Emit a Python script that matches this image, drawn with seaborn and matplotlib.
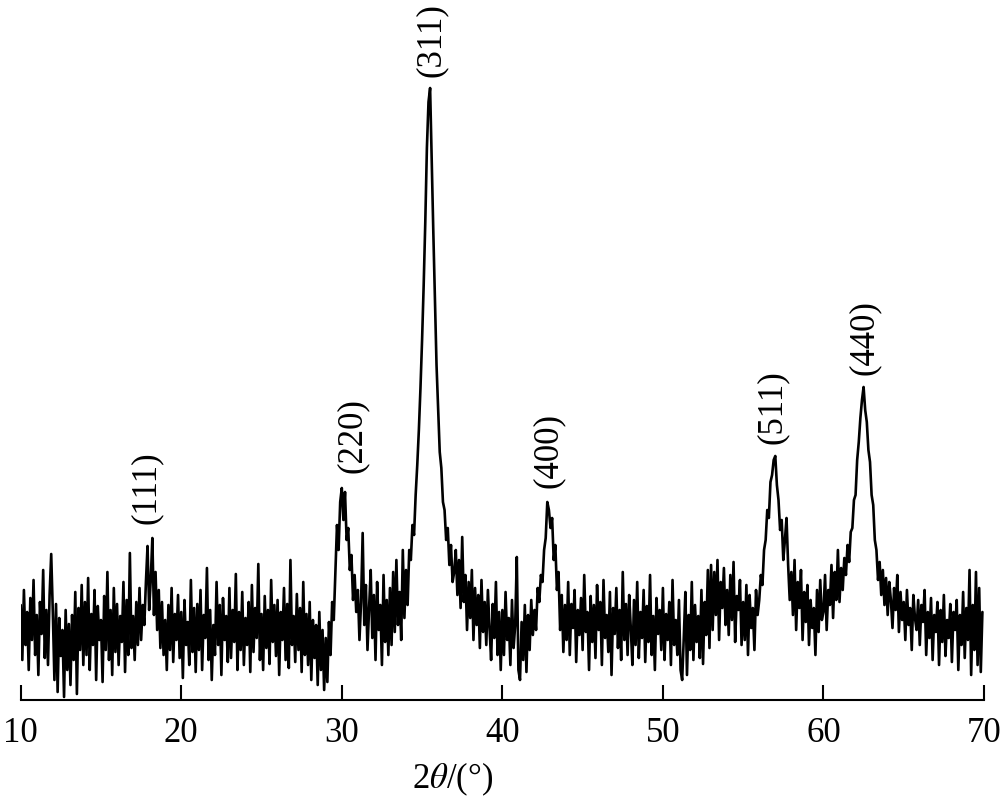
import numpy as np
import pandas as pd
import matplotlib.pyplot as plt
import seaborn as sns

# scan: 10.0 - 69.9 deg, 0.1 deg step, one row per degree
two_theta_start = 10.0
two_theta_step = 0.1
intensity_rows = [
    [95, 40, 110, 55, 88, 30, 102, 60, 120, 45],      # 10
    [85, 25, 98, 66, 130, 42, 90, 35, 105, 146],      # 11
    [88, 20, 96, 8, 82, 44, 70, 3, 90, 30],           # 12
    [76, 15, 85, 40, 108, 6, 92, 50, 115, 35],        # 13
    [98, 45, 122, 30, 86, 55, 110, 20, 94, 60],       # 14
    [80, 18, 104, 50, 128, 40, 90, 25, 112, 48],      # 15
    [96, 35, 84, 58, 118, 28, 100, 45, 147, 52],      # 16
    [84, 40, 98, 55, 112, 60, 95, 75, 118, 154],      # 17
    [90, 120, 162, 85, 128, 70, 110, 52, 98, 45],     # 18
    [80, 30, 95, 50, 112, 38, 86, 60, 105, 42],       # 19
    [88, 22, 100, 55, 78, 35, 120, 48, 92, 28],       # 20
    [96, 50, 110, 30, 85, 62, 132, 40, 90, 20],       # 21
    [75, 45, 118, 55, 95, 25, 102, 60, 84, 38],       # 22
    [112, 42, 90, 58, 126, 30, 88, 50, 108, 35],      # 23
    [82, 55, 98, 28, 115, 48, 92, 62, 136, 40],       # 24
    [86, 30, 104, 52, 90, 36, 120, 58, 95, 44],       # 25
    [100, 25, 88, 60, 112, 40, 96, 32, 140, 55],      # 26
    [84, 38, 106, 50, 92, 28, 118, 45, 86, 35],       # 27
    [98, 20, 80, 42, 75, 15, 88, 30, 70, 10],         # 28
    [62, 18, 78, 45, 98, 80, 128, 175, 150, 198],     # 29
    [212, 180, 208, 160, 172, 130, 145, 100, 125, 88],  # 30
    [110, 60, 98, 167, 75, 115, 50, 92, 130, 62],     # 31
    [105, 40, 118, 70, 95, 35, 125, 58, 100, 45],     # 32
    [112, 55, 128, 68, 140, 75, 108, 60, 150, 82],    # 33
    [130, 95, 150, 140, 175, 165, 205, 235, 270, 312],  # 34
    [360, 415, 478, 552, 598, 612, 540, 468, 402, 335],  # 35
    [292, 248, 232, 198, 190, 160, 172, 135, 155, 118],  # 36
    [128, 150, 105, 140, 92, 163, 98, 125, 70, 118],  # 37
    [82, 130, 60, 112, 75, 105, 52, 120, 68, 98],     # 38
    [55, 110, 72, 40, 96, 62, 118, 45, 88, 30],       # 39
    [90, 45, 108, 60, 82, 35, 100, 52, 75, 143],      # 40
    [30, 20, 78, 40, 95, 28, 85, 50, 100, 65],        # 41
    [90, 70, 112, 98, 125, 118, 150, 162, 198, 190],  # 42
    [172, 182, 140, 155, 110, 128, 70, 105, 48, 95],  # 43
    [60, 118, 45, 96, 72, 110, 38, 90, 65, 102],      # 44
    [50, 125, 68, 88, 30, 104, 58, 95, 42, 115],      # 45
    [70, 98, 35, 120, 62, 85, 48, 108, 25, 92],       # 46
    [66, 112, 52, 90, 40, 128, 60, 96, 45, 105],      # 47
    [72, 35, 100, 55, 118, 42, 88, 62, 110, 38],      # 48
    [94, 58, 125, 45, 84, 30, 102, 66, 90, 50],       # 49
    [112, 40, 86, 60, 98, 35, 120, 55, 80, 45],       # 50
    [100, 30, 20, 62, 108, 25, 85, 50, 118, 40],      # 51
    [95, 58, 84, 42, 110, 36, 98, 65, 130, 52],       # 52
    [135, 70, 128, 85, 140, 60, 118, 92, 132, 75],    # 53
    [110, 65, 125, 80, 138, 58, 104, 90, 120, 55],    # 54
    [98, 60, 115, 45, 105, 72, 92, 50, 110, 85],      # 55
    [100, 125, 115, 150, 160, 190, 182, 218, 225, 240],  # 56
    [244, 215, 200, 170, 180, 140, 160, 182, 135, 100],  # 57
    [128, 85, 140, 70, 118, 92, 130, 60, 108, 78],    # 58
    [115, 55, 100, 72, 92, 45, 110, 68, 120, 80],     # 59
    [88, 125, 70, 110, 95, 135, 82, 128, 100, 150],   # 60
    [98, 132, 110, 142, 125, 155, 138, 168, 172, 200],  # 61
    [205, 240, 258, 282, 300, 313, 290, 278, 250, 238],  # 62
    [205, 195, 160, 150, 120, 138, 105, 130, 95, 122],  # 63
    [85, 118, 100, 72, 112, 90, 125, 68, 108, 80],    # 64
    [98, 60, 110, 75, 92, 50, 105, 82, 70, 100],      # 65
    [55, 95, 78, 110, 45, 88, 62, 102, 40, 85],       # 66
    [68, 98, 35, 90, 58, 105, 44, 80, 62, 96],        # 67
    [38, 88, 70, 100, 30, 85, 55, 108, 42, 92],       # 68
    [60, 130, 25, 95, 50, 128, 35, 112, 28, 88],      # 69
]

peak_labels = ["(111)", "(220)", "(311)", "(400)", "(511)", "(440)"]
label_x = [17.8, 30.64, 35.56, 42.85, 56.8, 62.56]
label_y = [212, 264, 660, 249, 293, 362]

intensity = np.array(intensity_rows).ravel()
two_theta = two_theta_start + two_theta_step * np.arange(len(intensity))
df = pd.DataFrame({"2theta": two_theta, "I": intensity})

sns.set_style("ticks")
plt.rcParams["font.family"] = ["Liberation Serif", "DejaVu Serif"]
plt.rcParams["mathtext.fontset"] = "stix"
plt.rcParams["text.color"] = "black"
plt.rcParams["xtick.color"] = "black"
plt.rcParams["axes.labelcolor"] = "black"
plt.rcParams["axes.edgecolor"] = "black"

fig = plt.figure(figsize=(10, 8.01), dpi=100)
ax = fig.add_axes([0.0207, 101 / 801, 0.9633, 700 / 801])

sns.lineplot(data=df, x="2theta", y="I", ax=ax, color="black",
             linewidth=1.9, estimator=None)

for lab, lx, ly in zip(peak_labels, label_x, label_y):
    ax.text(lx, ly, lab, rotation=90, ha="center", va="center",
            fontsize=25, color="black")

ax.set_xlim(10, 70)
ax.set_ylim(0, 700)
ax.set_xticks(np.arange(10, 71, 10))
ax.set_yticks([])
ax.set_ylabel("")
ax.set_xlabel(r"2$\theta$/(°)", fontsize=25, x=0.448, labelpad=8)
ax.tick_params(axis="x", direction="in", length=11, width=1.5,
               labelsize=25, pad=12, colors="black")
for s in ["left", "right", "top"]:
    ax.spines[s].set_visible(False)
ax.spines["bottom"].set_linewidth(1.5)
ax.spines["bottom"].set_color("black")

plt.savefig("out.png", dpi=100)
